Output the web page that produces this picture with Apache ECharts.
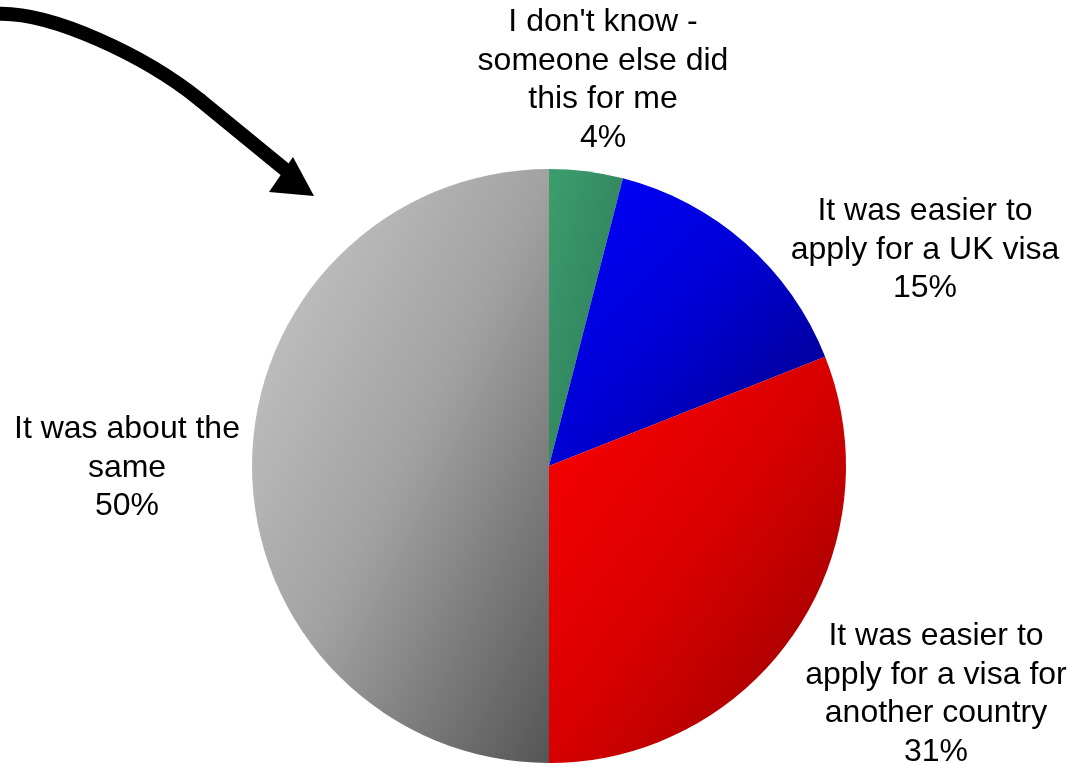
<!DOCTYPE html>
<html><head><meta charset="utf-8">
<script src="https://cdn.jsdelivr.net/npm/echarts@6/dist/echarts.min.js"></script>
<style>html,body{margin:0;padding:0;background:#fff}#c{width:1075px;height:765px}</style>
</head><body><div id="c"></div>
<script>
const categories = [
  "I don't know -\nsomeone else did\nthis for me",
  "It was easier to\napply for a UK visa",
  "It was easier to\napply for a visa for\nanother country",
  "It was about the\nsame"
];
const values = [4, 15, 31, 50];
const colorsLight = ['#3b9e6e', '#0000ff', '#ff0000', '#cbcbcb'];
const colorsDark  = ['#276548', '#000080', '#8e0000', '#555555'];
const labelPos = [[603, 80], [925, 250], [936, 694], [127, 468]];

const R = 297;
function mix(c1, c2, w) {
  const p = c => [1, 3, 5].map(k => parseInt(c.slice(k, k + 2), 16));
  const a = p(c1), b = p(c2);
  return 'rgb(' + a.map((v, k) => Math.round(v + (b[k] - v) * w)).join(',') + ')';
}
// bounding box (w,h) of a sector, angles clockwise from 12 o'clock (radians)
function sectorBox(a0, a1) {
  const pts = [[0, 0]];
  const pt = a => [Math.sin(a) * R, -Math.cos(a) * R];
  pts.push(pt(a0), pt(a1));
  for (let k = 0; k <= 4; k++) {
    const a = k * Math.PI / 2;
    if (a > a0 && a < a1) pts.push(pt(a));
  }
  const xs = pts.map(p => p[0]), ys = pts.map(p => p[1]);
  return [Math.max(...xs) - Math.min(...xs), Math.max(...ys) - Math.min(...ys)];
}
const total = values.reduce((a, b) => a + b, 0);
let acc = 0;
const seriesData = categories.map((c, i) => {
  const a0 = acc / total * 2 * Math.PI;
  acc += values[i];
  const a1 = acc / total * 2 * Math.PI;
  const [w, h] = sectorBox(a0, a1);
  const d = h * h + w * w;
  return {
    name: c, value: values[i],
    itemStyle: {
      color: new echarts.graphic.LinearGradient(0, 0, 2 * h * h / d, 2 * w * w / d, [
        {offset: 0, color: colorsLight[i]},
        {offset: 0.5, color: mix(colorsLight[i], colorsDark[i], 0.35)},
        {offset: 1, color: colorsDark[i]}
      ])
    }
  };
});

const chart = echarts.init(document.getElementById('c'), null, {renderer: 'canvas'});
chart.setOption({
  animation: false,
  backgroundColor: '#ffffff',
  series: [{
    type: 'pie',
    center: [549, 466],
    radius: [0, R],
    startAngle: 90,
    clockwise: true,
    data: seriesData,
    label: {
      show: true,
      position: 'inside',
      formatter: p => p.name + '\n' + p.value + '%',
      fontFamily: "'Liberation Sans', Arial, sans-serif",
      fontSize: 32,
      lineHeight: 38.5,
      color: '#000',
      align: 'center',
      overflow: 'none'
    },
    labelLine: {show: false},
    labelLayout: p => ({
      x: labelPos[p.dataIndex][0],
      y: labelPos[p.dataIndex][1],
      align: 'center',
      verticalAlign: 'middle'
    })
  }],
  graphic: [
    {
      type: 'bezierCurve',
      shape: {x1: -6, y1: 14, cpx1: 50, cpy1: 10, cpx2: 147, cpy2: 57, x2: 200, y2: 100},
      style: {stroke: '#000', lineWidth: 14, fill: null, lineCap: 'round'}
    },
    {
      type: 'line',
      shape: {x1: 200, y1: 100, x2: 288, y2: 172},
      style: {stroke: '#000', lineWidth: 14, lineCap: 'round'}
    },
    {
      type: 'polygon',
      shape: {points: [[269, 192], [293, 157], [314, 196]]},
      style: {fill: '#000'}
    }
  ]
});
</script></body></html>
